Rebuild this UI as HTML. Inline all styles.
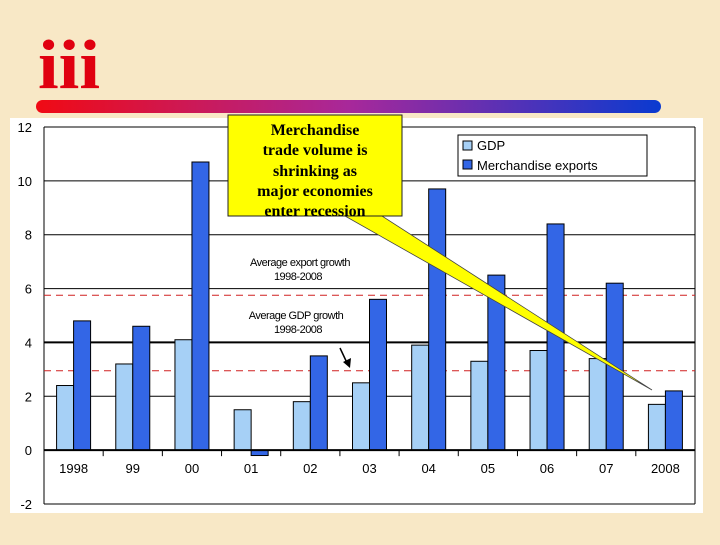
<!DOCTYPE html>
<html><head><meta charset="utf-8"><style>
body{margin:0;width:720px;height:540px;background:#f8e8c6;overflow:hidden;font-family:"Liberation Sans",sans-serif}
</style></head><body>
<svg width="720" height="540" xmlns="http://www.w3.org/2000/svg">
<defs><linearGradient id="g" x1="0" x2="1"><stop offset="0" stop-color="#f00a14"/><stop offset="0.5" stop-color="#a8289a"/><stop offset="1" stop-color="#0a3ad0"/></linearGradient></defs>
<text x="38" y="88" font-family="Liberation Serif,serif" font-weight="bold" font-size="70" fill="#e00010" textLength="62" lengthAdjust="spacingAndGlyphs">iii</text>
<rect x="36" y="100" width="625" height="13" rx="6.5" fill="url(#g)"/>
<rect x="10" y="118" width="693" height="395" fill="#fff"/>
<g id="chart"></g>
<g>
<rect x="458" y="135" width="189" height="41" fill="#fff" stroke="#000"/>
<rect x="463" y="141" width="9" height="9" fill="#a6d0f6" stroke="#000"/>
<text x="477" y="150" font-size="13">GDP</text>
<rect x="463" y="160" width="9" height="9" fill="#3366e6" stroke="#000"/>
<text x="477" y="170" font-size="13">Merchandise exports</text>
</g>
<text x="300" y="266" font-size="11" text-anchor="middle" letter-spacing="-0.5">Average export growth</text>
<text x="298" y="280" font-size="11" text-anchor="middle" letter-spacing="-0.5">1998-2008</text>
<text x="296" y="319" font-size="11" text-anchor="middle" letter-spacing="-0.5">Average GDP growth</text>
<text x="298" y="333" font-size="11" text-anchor="middle" letter-spacing="-0.5">1998-2008</text>
<path d="M340 348 L348 365" stroke="#000" stroke-width="1.5"/><path d="M343 362 L350 368 L351 358Z" fill="#000"/>
<polygon points="345,216 382,216 652,390" fill="#ffff00" stroke="#444" stroke-width="0.8"/>
<rect x="228" y="115" width="174" height="101" fill="#ffff00" stroke="#222"/>
<g font-family="Liberation Serif,serif" font-weight="bold" font-size="16" text-anchor="middle">
<text x="315" y="135">Merchandise</text><text x="315" y="155">trade volume is</text><text x="315" y="176">shrinking as</text><text x="315" y="196">major economies</text><text x="315" y="216">enter recession</text></g>
</svg>
<script>
const categories=["1998","99","00","01","02","03","04","05","06","07","2008"];
const gdp=[2.4,3.2,4.1,1.5,1.8,2.5,3.9,3.3,3.7,3.4,1.7];
const exportsV=[4.8,4.6,10.7,-0.2,3.5,5.6,9.7,6.5,8.4,6.2,2.2];
const yTicks=[-2,0,2,4,6,8,10,12];
const avgExport=5.75, avgGdp=2.95;
const NS="http://www.w3.org/2000/svg";
const g=document.getElementById('chart');
const x0=44,x1=695,yTop=127,yBot=504,vMin=-2,vMax=12;
const y=v=>yBot-(v-vMin)/(vMax-vMin)*(yBot-yTop);
const step=(x1-x0)/categories.length;
const xc=i=>x0+step*(i+0.5);
function mk(t,a){const e=document.createElementNS(NS,t);for(const k in a)e.setAttribute(k,a[k]);g.appendChild(e);return e;}
yTicks.forEach(t=>{
 const l=mk('line',{x1:x0,x2:x1,y1:y(t),y2:y(t),stroke:'#000','stroke-width':t===4?2:1});
 
 
 const tx=mk('text',{x:32,y:y(t)+5,'font-size':13,'text-anchor':'end'});tx.textContent=t;
 
 
});
mk('line',{x1:x0,x2:x0,y1:yTop,y2:yBot,stroke:'#000'});
mk('line',{x1:x1,x2:x1,y1:yTop,y2:yBot,stroke:'#000'});
[avgExport,avgGdp].forEach(v=>{
 const l=mk('line',{x1:x0,x2:x1,y1:y(v),y2:y(v),stroke:'#d02020','stroke-dasharray':'7,5','stroke-width':1});
 
 
});
const bw=17;
categories.forEach((c,i)=>{
 const cx=xc(i);
 const a=mk('rect',{x:cx-bw,y:Math.min(y(gdp[i]),y(0)),width:bw,height:Math.abs(y(gdp[i])-y(0)),fill:'#a6d0f6',stroke:'#000','stroke-width':1});
 
 
 const b=mk('rect',{x:cx,y:Math.min(y(exportsV[i]),y(0)),width:bw,height:Math.abs(y(exportsV[i])-y(0)),fill:'#3366e6',stroke:'#000','stroke-width':1});
 
 
 const t=mk('text',{x:cx,y:y(0)+23,'font-size':13,'text-anchor':'middle'});t.textContent=c;
 
 
 if(i>0)mk('line',{x1:x0+step*i,x2:x0+step*i,y1:y(0),y2:y(0)+6,stroke:'#000'});
});
mk('line',{x1:x0,x2:x1,y1:y(0),y2:y(0),stroke:'#000','stroke-width':2});
</script>
</body></html>
